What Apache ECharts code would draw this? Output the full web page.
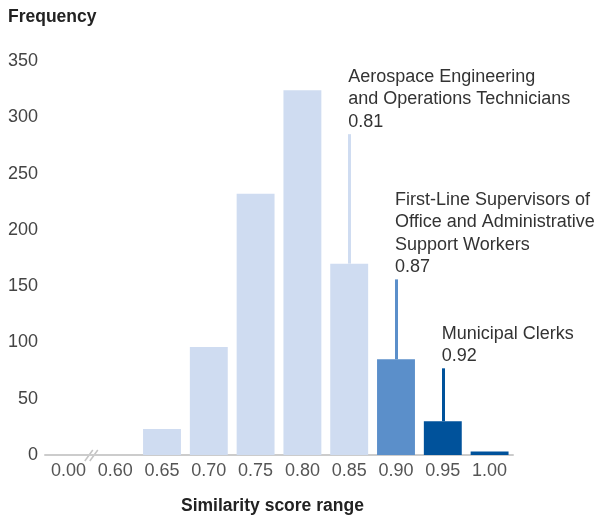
<!DOCTYPE html>
<html>
<head>
<meta charset="utf-8">
<script src="https://cdn.jsdelivr.net/npm/echarts@6/dist/echarts.min.js"></script>
<style>
  html, body { margin: 0; padding: 0; background: #fff; }
  #chart { width: 598px; height: 517px; }
</style>
</head>
<body>
<div id="chart"></div>
<script>
// similarity score bins and counts
const categories = ['0.00', '0.60', '0.65', '0.70', '0.75', '0.80', '0.85', '0.90', '0.95', '1.00']
const frequency = [0, 0, 23, 96, 232, 324, 170, 85, 30, 3]

// occupations called out
const annoNames = ['Aerospace Engineering\nand Operations Technicians', 'First-Line Supervisors of\nOffice and Administrative\nSupport Workers', 'Municipal Clerks']
const annoScores = ['0.81', '0.87', '0.92']
const annoBins = ['0.85', '0.90', '0.95']
const annoTops = [285, 156, 77]

const light = '#cfdcf1', mid = '#5b8fca', dark = '#00529b'
const annoColors = [light, mid, dark]
const font = 'Liberation Sans'

let chart = echarts.init(document.getElementById('chart'))

let titles = [
  { type: 'text', left: 8, top: 8, style: { text: 'Frequency', font: 'bold 17.5px ' + font, fill: '#222' } },
  { type: 'text', left: 181, top: 497, style: { text: 'Similarity score range', font: 'bold 17.5px ' + font, fill: '#222' } }
]

chart.setOption({
  animation: false,
  textStyle: { fontFamily: font },
  grid: { left: 45, right: 85, top: 61, bottom: 62 },
  graphic: titles,
  xAxis: {
    type: 'category',
    data: categories,
    axisLine: { lineStyle: { color: '#cccccc', width: 2 } },
    axisTick: { show: false },
    axisLabel: { color: '#555', fontSize: 18, margin: 7, fontFamily: font }
  },
  yAxis: {
    type: 'value',
    min: 0,
    max: 350,
    interval: 50,
    splitLine: { show: false },
    axisLine: { show: false },
    axisTick: { show: false },
    axisLabel: { color: '#444', fontSize: 18, margin: 7, fontFamily: font }
  },
  series: [
    {
      type: 'bar',
      data: frequency,
      barCategoryGap: '19%',
      itemStyle: {
        color: p => p.dataIndex < 7 ? light : (p.dataIndex === 7 ? mid : dark)
      },
      markLine: {
        silent: true,
        symbol: 'none',
        label: { show: false },
        data: annoBins.map((b, i) => [
          { coord: [b, frequency[categories.indexOf(b)]], lineStyle: { color: annoColors[i], width: 3, type: 'solid' } },
          { coord: [b, annoTops[i]] }
        ])
      },
      markPoint: {
        silent: true,
        symbol: 'circle',
        symbolSize: 0,
        data: annoBins.map((b, i) => ({
          coord: [b, annoTops[i]],
          label: {
            show: true,
            position: [-1, -1],
            align: 'left',
            verticalAlign: 'bottom',
            formatter: annoNames[i] + '\n' + annoScores[i],
            color: '#333',
            fontSize: 18,
            lineHeight: 22.5,
            fontFamily: font
          }
        }))
      }
    }
  ]
})

// axis break mark between 0.00 and 0.60
let p0 = chart.convertToPixel({ xAxisIndex: 0 }, categories[0])
let p1 = chart.convertToPixel({ xAxisIndex: 0 }, categories[1])
let bx = (p0 + p1) / 2
let by = chart.convertToPixel({ yAxisIndex: 0 }, 0)
chart.setOption({
  graphic: titles.concat([
    { type: 'polygon', shape: { points: [[bx - 6, by + 2], [bx - 2, by - 3], [bx + 6, by - 3], [bx + 2, by + 2]] }, style: { fill: '#fff' } },
    { type: 'line', shape: { x1: bx - 7, y1: by + 6, x2: bx + 1, y2: by - 5 }, style: { stroke: '#c4c4c4', lineWidth: 1.5 } },
    { type: 'line', shape: { x1: bx - 2, y1: by + 6, x2: bx + 6, y2: by - 5 }, style: { stroke: '#c4c4c4', lineWidth: 1.5 } }
  ])
})
</script>
</body>
</html>
